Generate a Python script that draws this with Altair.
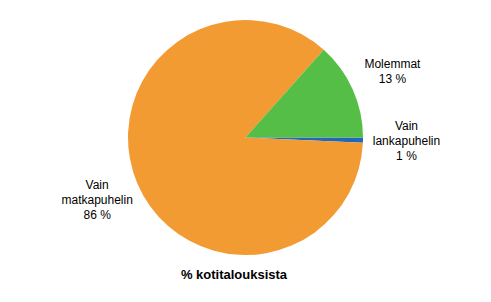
import math
import altair as alt
import pandas as pd

categories = ["Vain lankapuhelin", "Vain matkapuhelin", "Molemmat"]
values = [0.7, 85.9, 13.4]
labels = [["Vain", "lankapuhelin", "1 %"], ["Vain", "matkapuhelin", "86 %"], ["Molemmat", "13 %"]]
colors = ["#2368B8", "#F39B33", "#55BE46"]
title_text = "% kotitalouksista"

LINE_H = 15
df = pd.DataFrame({
    "cat": categories,
    "val": values,
    "label": labels,
    "ord": list(range(len(categories))),
    "shift": [-(len(l) - 1) * LINE_H / 2 for l in labels],
})

CX, CY = 245.5, 137.5
theta_scale = alt.Scale(domain=[0, float(sum(values))],
                        range=[math.pi / 2, math.pi / 2 + 2 * math.pi])

arcs = alt.Chart(df).mark_arc(radius=117.5, stroke=None).encode(
    theta=alt.Theta("val:Q", stack=True, scale=theta_scale),
    order=alt.Order("ord:Q"),
    x=alt.value(CX),
    y=alt.value(CY),
    color=alt.Color("cat:N", scale=alt.Scale(domain=categories, range=colors), legend=None),
)

texts = alt.Chart(df).transform_window(
    cum="sum(val)", sort=[alt.SortField("ord")]
).transform_calculate(
    mid="datum.cum - datum.val / 2"
).mark_text(radius=161, font="Liberation Sans", fontSize=12, color="#000000",
            align="center", baseline="middle", lineHeight=LINE_H).encode(
    theta=alt.Theta("mid:Q", stack=None, scale=theta_scale),
    x=alt.value(CX),
    y=alt.value(CY),
    text="label",
    yOffset=alt.YOffset("shift:Q", scale=None),
)

title = alt.Chart(pd.DataFrame({"t": [title_text]})).mark_text(
    font="Liberation Sans", fontSize=13, fontWeight="bold", color="#000000",
    align="center", baseline="middle",
).encode(text="t:N", x=alt.value(234), y=alt.value(275))

chart = alt.layer(arcs, texts, title).properties(
    width=491, height=302,
    autosize=alt.AutoSizeParams(type="none"),
    padding=0,
).configure_view(stroke=None)

chart.save("out.html", embed_options={"renderer": "svg", "actions": False})
